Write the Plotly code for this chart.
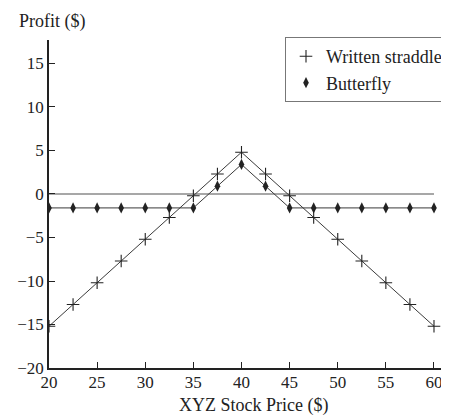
import plotly.graph_objects as go

# ── Data ──────────────────────────────────────────────────────────────────────
prices = [20, 22.5, 25, 27.5, 30, 32.5, 35, 37.5, 40, 42.5, 45,
          47.5, 50, 52.5, 55, 57.5, 60]
straddle = [-15.2, -12.7, -10.2, -7.7, -5.2, -2.7, -0.2, 2.3, 4.8, 2.3, -0.2,
            -2.7, -5.2, -7.7, -10.2, -12.7, -15.2]
butterfly = [-1.6, -1.6, -1.6, -1.6, -1.6, -1.6, -1.6, 0.9, 3.4, 0.9, -1.6,
             -1.6, -1.6, -1.6, -1.6, -1.6, -1.6]
zero_x = [20, 60]
zero_y = [0, 0]

x_ticks = [20, 25, 30, 35, 40, 45, 50, 55, 60]
y_ticks = [-20, -15, -10, -5, 0, 5, 10, 15]

FONT = "Liberation Serif, Times New Roman, serif"
INK = "#222222"

CROSS = dict(symbol="cross-thin-open", size=9, color=INK, line=dict(color=INK, width=1.1))
DIAMOND = dict(symbol="diamond-tall", size=8, color=INK)

fig = go.Figure()

# zero reference line
fig.add_trace(go.Scatter(x=zero_x, y=zero_y, mode="lines",
                         line=dict(color="#8a8a8a", width=1.6),
                         showlegend=False, hoverinfo="skip"))

fig.add_trace(go.Scatter(x=prices, y=straddle, mode="lines+markers", showlegend=False,
                         line=dict(color="#3a3a3a", width=1), marker=CROSS))
fig.add_trace(go.Scatter(x=prices, y=butterfly, mode="lines+markers", showlegend=False,
                         line=dict(color="#3a3a3a", width=1), marker=DIAMOND))

# legend-only entries (marker glyphs only, as in the source)
fig.add_trace(go.Scatter(x=[None], y=[None], mode="markers",
                         name="Written straddle", marker=CROSS))
fig.add_trace(go.Scatter(x=[None], y=[None], mode="markers",
                         name="Butterfly", marker=DIAMOND))

# page body has an 8px margin, so the figure is sized/offset to compensate
fig.update_layout(
    width=441, height=409,
    paper_bgcolor="white", plot_bgcolor="white",
    margin=dict(l=41, r=0, t=32, b=49, autoexpand=False),
    font=dict(family=FONT, size=17, color=INK),
    xaxis=dict(range=[20, 61.56], tickvals=x_ticks, ticks="inside", ticklen=6,
               tickcolor=INK, showline=True, linecolor=INK, linewidth=1.5,
               showgrid=False, zeroline=False, ticklabelstandoff=-2,
               automargin=False),
    yaxis=dict(range=[-20, 17.7], tickvals=y_ticks, ticks="inside", ticklen=6,
               tickcolor=INK, showline=True, linecolor=INK, linewidth=1.5,
               showgrid=False, zeroline=False, tickformat="d", automargin=False),
    legend=dict(x=0.59, y=1.009, xanchor="left", yanchor="top",
                bordercolor="#777777", borderwidth=1, bgcolor="white",
                font=dict(size=18), itemwidth=30, tracegroupgap=0),
    annotations=[
        dict(text="Profit ($)", xref="paper", yref="paper", x=-0.08, y=1.055,
             xanchor="left", yanchor="middle", showarrow=False,
             font=dict(size=18)),
        dict(text="XYZ Stock Price ($)", xref="paper", yref="paper", x=0.51,
             y=-0.113, xanchor="center", yanchor="middle", showarrow=False,
             font=dict(size=18)),
    ],
)

fig.write_html("out.html")
